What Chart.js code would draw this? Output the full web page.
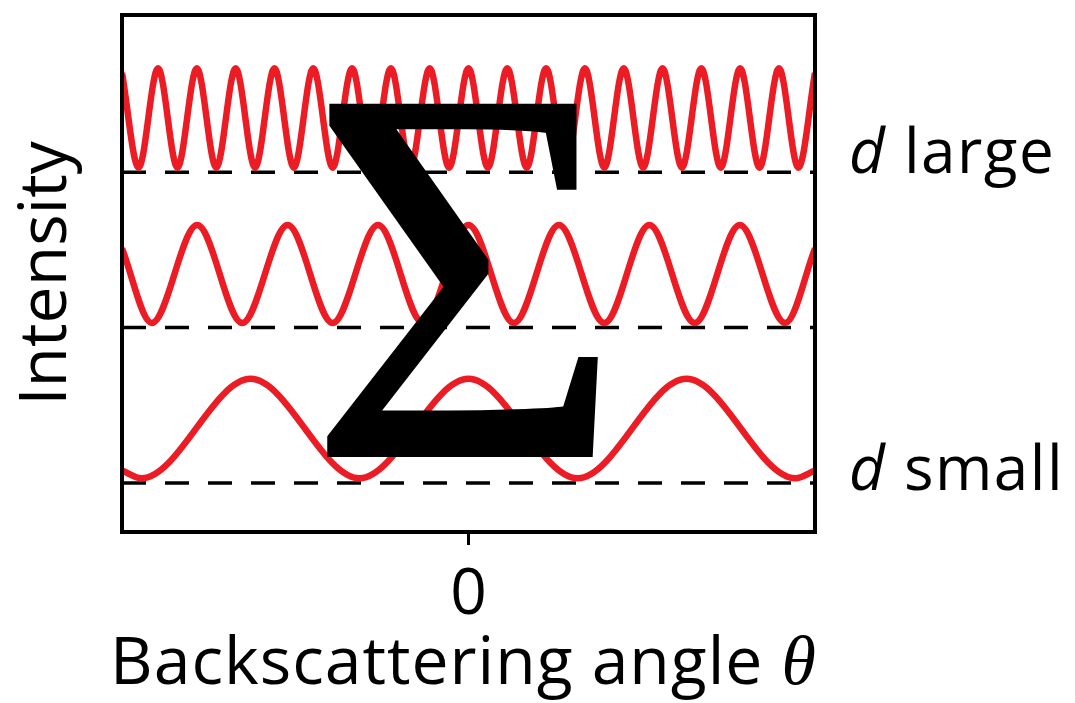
<!DOCTYPE html>
<html>
<head>
<meta charset="utf-8">
<script src="https://cdn.jsdelivr.net/npm/chart.js@4.4.1/dist/chart.umd.min.js"></script>
<style>
  html, body { margin: 0; padding: 0; background: #fff; }
  #wrap { width: 1075px; height: 703px; }
</style>
</head>
<body>
<div id="wrap"><canvas id="chart" width="1075" height="703"></canvas></div>
<script>
// Peaks and troughs. x runs from -1 (left edge) through 0 (centre) to 1 (right edge).
const largeX = [-1, -0.952, -0.896, -0.840, -0.784, -0.728, -0.672, -0.616, -0.560, -0.504, -0.448, -0.392,
  -0.336, -0.280, -0.224, -0.168, -0.112, -0.056, 0, 0.056, 0.112, 0.168, 0.224, 0.280, 0.336, 0.392,
  0.448, 0.504, 0.560, 0.616, 0.672, 0.728, 0.784, 0.840, 0.896, 0.952, 1];
const largeY = [2.64, 2.03, 2.67, 2.03, 2.67, 2.03, 2.67, 2.03, 2.67, 2.03, 2.67, 2.03,
  2.67, 2.03, 2.67, 2.03, 2.67, 2.03, 2.67, 2.03, 2.67, 2.03, 2.67, 2.03, 2.67, 2.03,
  2.67, 2.03, 2.67, 2.03, 2.67, 2.03, 2.67, 2.03, 2.67, 2.03, 2.64];

const mediumX = [-1, -0.914, -0.783, -0.653, -0.522, -0.392, -0.261, -0.131, 0,
  0.131, 0.261, 0.392, 0.522, 0.653, 0.783, 0.914, 1];
const mediumY = [1.51, 1.03, 1.66, 1.03, 1.66, 1.03, 1.66, 1.03, 1.66,
  1.03, 1.66, 1.03, 1.66, 1.03, 1.66, 1.03, 1.51];

const smallX = [-1, -0.944, -0.629, -0.315, 0, 0.315, 0.629, 0.944, 1];
const smallY = [0.08, 0.03, 0.67, 0.03, 0.67, 0.03, 0.67, 0.03, 0.08];

// dashed zero lines under each curve
const baselineX = [-1, 1];
const baselineLevels = [2, 1, 0];

const xTicks = [0];
const xTitle = 'Backscattering angle ';
const xTitleSymbol = 'θ';
const yTitle = 'Intensity';
const sumSymbol = 'Σ';
const labelLarge = 'large';
const labelSmall = 'small';
const labelVar = 'd';

const RED = '#ec1c24';
const SANS = '"Open Sans", sans-serif';

function points(xs, ys) {
    return xs.map((x, i) => ({ x: x, y: ys[i] }));
}

const waveStyle = {
    borderColor: RED,
    borderWidth: 6.5,
    cubicInterpolationMode: 'monotone',
    pointRadius: 0,
    fill: false,
    order: 1
};

const datasets = [
    { ...waveStyle, label: 'd large', data: points(largeX, largeY) },
    { ...waveStyle, label: 'd medium', data: points(mediumX, mediumY) },
    { ...waveStyle, label: 'd small', data: points(smallX, smallY) }
];

baselineLevels.forEach(level => {
    datasets.push({
        label: 'zero ' + level,
        data: points(baselineX, baselineX.map(() => level)),
        borderColor: '#000',
        borderWidth: 3.5,
        borderDash: [24, 19],
        borderCapStyle: 'butt',
        pointRadius: 0,
        order: 2
    });
});

// stretch a glyph so its ink box (plus an outline of width lw) fills the given box
function drawFitted(ctx, text, font, box, lw) {
    ctx.save();
    ctx.font = font;
    ctx.textAlign = 'left';
    ctx.textBaseline = 'alphabetic';
    const m = ctx.measureText(text);
    const w = m.actualBoundingBoxLeft + m.actualBoundingBoxRight;
    const h = m.actualBoundingBoxAscent + m.actualBoundingBoxDescent;
    const sx = (box.right - box.left - lw) / w;
    const sy = (box.bottom - box.top - lw) / h;
    ctx.translate(box.left + lw / 2, box.top + lw / 2);
    ctx.scale(sx, sy);
    ctx.fillText(text, m.actualBoundingBoxLeft, m.actualBoundingBoxAscent);
    ctx.lineWidth = lw / ((sx + sy) / 2);
    ctx.lineJoin = 'miter';
    ctx.strokeText(text, m.actualBoundingBoxLeft, m.actualBoundingBoxAscent);
    ctx.restore();
}

const decorations = {
    id: 'decorations',
    afterDatasetsDraw(chart) {
        const { ctx, chartArea: a, scales: { y } } = chart;
        ctx.save();
        ctx.fillStyle = '#000';
        ctx.strokeStyle = '#000';

        // big summation sign over the curves
        drawFitted(ctx, sumSymbol, '400px "Liberation Serif", serif',
            { left: 323, right: 606, top: 103, bottom: 457 }, 2);

        // frame
        ctx.lineWidth = 4;
        ctx.strokeRect(a.left, a.top, a.right - a.left, a.bottom - a.top);

        // labels on the right
        ctx.textAlign = 'left';
        ctx.textBaseline = 'alphabetic';
        ctx.letterSpacing = '1.5px';
        const drawLabel = (word, baseY) => {
            ctx.font = 'italic 62px ' + SANS;
            ctx.fillText(labelVar, 849, baseY);
            const dw = ctx.measureText(labelVar + ' ').width;
            ctx.font = '62px ' + SANS;
            ctx.fillText(word, 849 + dw, baseY);
        };
        drawLabel(labelLarge, y.getPixelForValue(2) + 1);
        drawLabel(labelSmall, y.getPixelForValue(0) + 7);

        // x axis title with italic serif theta
        ctx.letterSpacing = '1px';
        ctx.font = '66px ' + SANS;
        const tw = ctx.measureText(xTitle).width;
        ctx.letterSpacing = '0px';
        ctx.font = 'italic 70px "Liberation Serif", serif';
        const thw = ctx.measureText(xTitleSymbol).width;
        const startX = 463 - (tw + thw) / 2;
        ctx.letterSpacing = '1px';
        ctx.font = '66px ' + SANS;
        ctx.fillText(xTitle, startX, 684);
        ctx.letterSpacing = '0px';
        ctx.font = 'italic 70px "Liberation Serif", serif';
        ctx.fillText(xTitleSymbol, startX + tw, 684);

        ctx.restore();
    }
};

new Chart(document.getElementById('chart'), {
    type: 'line',
    data: { datasets: datasets },
    options: {
        responsive: false,
        animation: false,
        layout: { padding: { top: 15, right: 260, left: 0, bottom: 0 } },
        plugins: {
            legend: { display: false },
            tooltip: { enabled: false }
        },
        scales: {
            x: {
                type: 'linear',
                min: -1,
                max: 1,
                afterFit: s => { s.height = 171; },
                afterBuildTicks: s => { s.ticks = xTicks.map(v => ({ value: v })); },
                ticks: {
                    color: '#000',
                    font: { family: SANS, size: 64 },
                    padding: 12,
                    maxRotation: 0,
                    callback: v => String(v)
                },
                grid: {
                    drawOnChartArea: false,
                    drawTicks: true,
                    tickLength: 13,
                    tickWidth: 3,
                    tickColor: '#000'
                },
                border: { display: false }
            },
            y: {
                min: -0.316,
                max: 3.013,
                afterFit: s => { s.width = 122; },
                ticks: { display: false },
                grid: { display: false },
                border: { display: false },
                title: {
                    display: true,
                    text: yTitle,
                    color: '#000',
                    font: { family: SANS, size: 66 },
                    padding: { top: 8, bottom: 0 }
                }
            }
        }
    },
    plugins: [decorations]
});
</script>
</body>
</html>
